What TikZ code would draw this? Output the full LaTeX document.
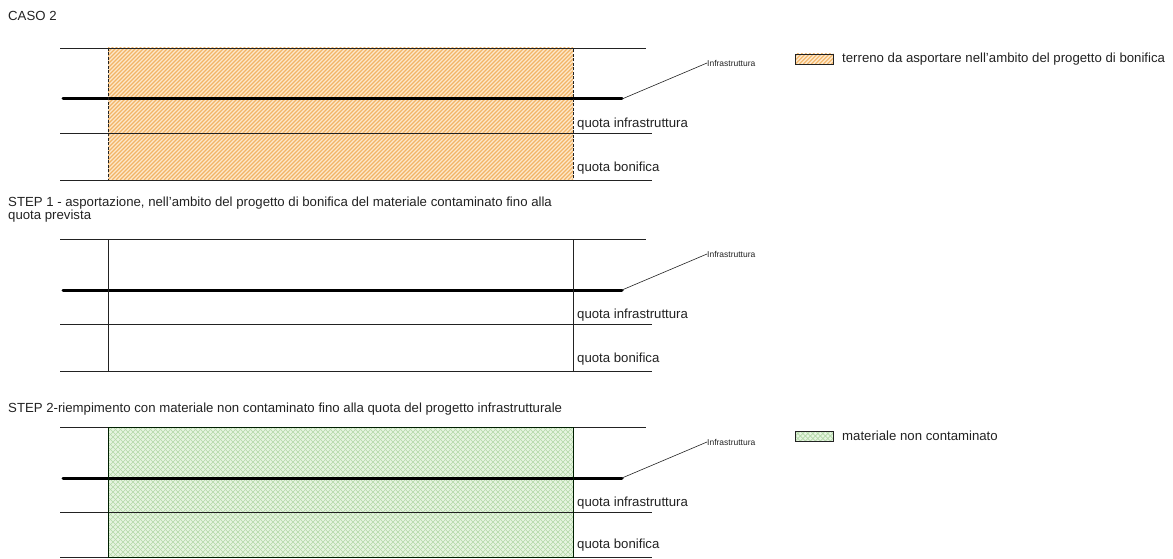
\documentclass[tikz,border=0pt]{standalone}
\usepackage{fontspec}
\setmainfont{Liberation Sans}
\definecolor{orfill}{HTML}{FDE8CB}
\definecolor{orline}{HTML}{F2B466}
\definecolor{grfill}{HTML}{E6F4E0}
\definecolor{grline}{HTML}{B3D9A8}
\definecolor{ink}{HTML}{222222}
\begin{document}
\begin{tikzpicture}[x=1pt,y=-1pt,
  thinl/.style={line width=0.8pt, draw=ink},
  thickl/.style={line width=3pt, draw=black, line cap=round},
  leader/.style={line width=0.6pt, draw=ink},
  lbl/.style={anchor=west, inner sep=0pt, text=ink, font=\fontsize{13.2}{12.5}\selectfont},
  tinylbl/.style={anchor=west, inner sep=0pt, text=ink, font=\fontsize{8.5}{9}\selectfont},
  orhatched/.style={fill=orfill, path picture={
    \foreach \i in {-600,-596,...,600}
      \draw[orline, line width=1.1pt] ([xshift=\i pt]path picture bounding box.south west) -- ++(700,-700);}},
  grhatched/.style={fill=grfill, path picture={
    \foreach \i in {-600,-595,...,600}{
      \draw[grline, line width=0.6pt] ([xshift=\i pt]path picture bounding box.south west) -- ++(700,-700);
      \draw[grline, line width=0.6pt] ([xshift=\i pt]path picture bounding box.north west) -- ++(700,700);}}},
  legbox/.style={draw=ink, line width=0.8pt, minimum width=38pt, minimum height=10pt, inner sep=0pt, anchor=west}
]
\useasboundingbox (0,0) rectangle (1173,559);

% coordinates and labels of the three panels
\foreach \p/\dy/\bt in {1/0/180,2/191/371,3/379/557}{
  \coordinate (top\p L) at (60,48+\dy);
  \coordinate (top\p R) at (646,48+\dy);
  \coordinate (box\p A) at (108,48+\dy);
  \coordinate (box\p B) at (573,\bt);
  \coordinate (inf\p L) at (63,99+\dy);
  \coordinate (inf\p R) at (622,99+\dy);
  \coordinate (mid\p L) at (60,133+\dy);
  \coordinate (mid\p R) at (652,133+\dy);
  \coordinate (bot\p L) at (60,\bt);
  \coordinate (bot\p R) at (652,\bt);
  \node[tinylbl] (lab\p) at (707,63+\dy) {Infrastruttura};
  \node[lbl] (qi\p) at (577,124+\dy) {quota infrastruttura};
  \node[lbl] (qb\p) at (577,\bt-12) {quota bonifica};
}

% titles
\node[lbl] (caso) at (8,16) {CASO 2};
\node[lbl, anchor=north west, align=left] (step1) at (8,197)
  {STEP 1 - asportazione, nell'ambito del progetto di bonifica del materiale contaminato fino alla\\quota prevista};
\node[lbl] (step2) at (8,409)
  {STEP 2-riempimento con materiale non contaminato fino alla quota del progetto infrastrutturale};

% fills
\path[orhatched] (box1A) rectangle (box1B);
\path[grhatched] (box3A) rectangle (box3B);

% lines of the panels
\foreach \p in {1,2,3}{
  \draw[thinl] (top\p L) -- (top\p R);
  \draw[thinl] (mid\p L) -- (mid\p R);
  \draw[thinl] (bot\p L) -- (bot\p R);
  \draw[thickl] (inf\p L) -- (inf\p R);
  \draw[leader] (inf\p R) -- (lab\p.west);
}

% box outlines
\draw[ink, line width=0.9pt, dash pattern=on 3pt off 1.5pt] (box1A) rectangle (box1B);
\draw[ink, line width=0.9pt] (box2A) rectangle (box2B);
\draw[black!70!green!40!black, line width=0.9pt] (box3A) rectangle (box3B);

% legend
\node[legbox, orhatched] (leg1) at (795,59) {};
\node[lbl] (leg1t) at (842,59) {terreno da asportare nell'ambito del progetto di bonifica};
\node[legbox, grhatched] (leg2) at (795,436) {};
\node[lbl] (leg2t) at (842,436) {materiale non contaminato};
\end{tikzpicture}
\end{document}
